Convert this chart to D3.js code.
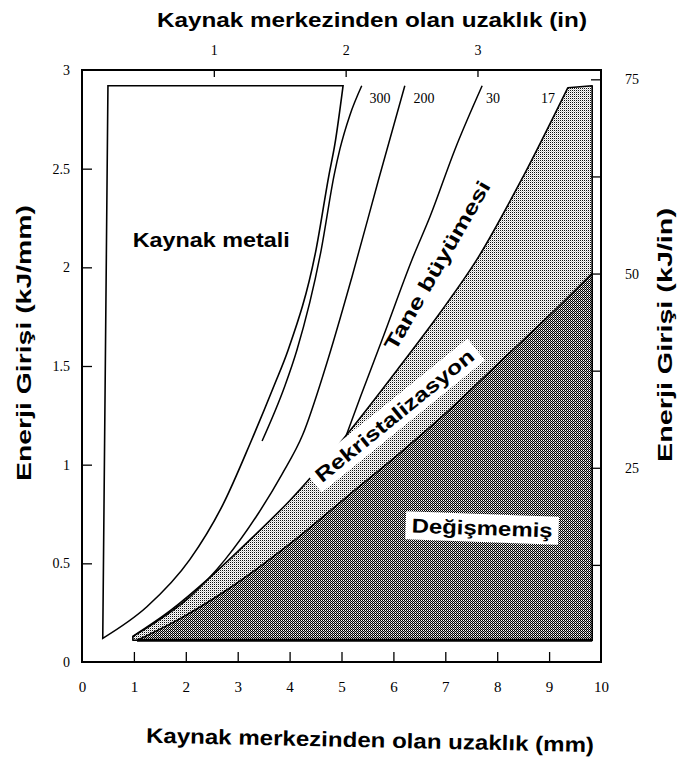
<!DOCTYPE html>
<html><head><meta charset="utf-8">
<script src="https://cdn.jsdelivr.net/npm/d3@7/dist/d3.min.js"></script>
<style>body{margin:0;background:#fff}svg{display:block}</style>
</head><body>
<svg id="c" width="686" height="761"></svg>
<script>
// ---- data (x: distance mm, y: energy input kJ/mm) ----
const xTicksMm = [0,1,2,3,4,5,6,7,8,9,10];
const yTicksKjMm = [0,0.5,1,1.5,2,2.5,3];
const xTicksIn = [1,2,3];
const yTicksKjIn = [12.5,25,37.5,50,62.5,75];
const yLabelsKjIn = [25,50,75];

const weldBoundary = [[0.40,0.12],[1.25,0.28],[2.08,0.52],[2.72,0.80],[3.26,1.12],[3.70,1.40],[3.97,1.58],[4.51,2.09],[4.76,2.47],[4.87,2.62],[5.03,2.92]];
const weldTopLeft = [0.50,2.92];
const line300 = [[3.47,1.12],[3.91,1.40],[4.14,1.58],[4.61,2.09],[4.86,2.47],[4.97,2.60],[5.16,2.77],[5.39,2.92]];
const line200 = [[0.98,0.13],[1.41,0.20],[2.08,0.33],[2.76,0.52],[3.39,0.75],[3.85,0.95],[4.25,1.15],[4.70,1.50],[5.20,1.95],[5.72,2.45],[6.22,2.92]];
const line30 = [[5.01,1.09],[5.36,1.34],[5.82,1.66],[6.36,2.04],[6.71,2.26],[7.19,2.60],[7.71,2.92]];
const line17 = [[0.98,0.13],[1.70,0.26],[2.47,0.43],[3.24,0.62],[4.01,0.82],[4.97,1.11],[6.13,1.50],[6.90,1.77],[7.61,2.04],[8.44,2.43],[9.36,2.91]];
const darkBoundary = [[1.06,0.11],[1.89,0.22],[2.76,0.36],[4.01,0.60],[5.16,0.85],[6.13,1.06],[7.09,1.28],[8.05,1.52],[9.02,1.76],[9.83,1.97]];
const zoneRightX = 9.83;
const zoneTopY = 2.92;
const zoneBottomY = 0.11;

const curveLabels = [["300",5.74,2.86],["200",6.59,2.86],["30",7.92,2.86],["17",8.98,2.86]];
const zoneLabels = [
  {t:"Kaynak metali", x:2.49, y:2.14, a:0, len:157, box:false},
  {t:"Tane büyümesi", x:6.84, y:2.01, a:-60, len:192, box:false},
  {t:"Rekristalizasyon", x:6.02, y:1.25, a:-39, len:198, box:true},
  {t:"Değişmemiş", x:7.71, y:0.68, a:2, len:141, box:true}
];

// ---- layout ----
const L = 82, R = 601, T = 70, B = 662;
const svg = d3.select("#c");
const x = d3.scaleLinear().domain([0,10]).range([L,R]);
const y = d3.scaleLinear().domain([0,3]).range([B,T]);
const xIn = d3.scaleLinear().domain([0,10/2.54]).range([L,R]);
const yIn = d3.scaleLinear().domain([0,3*25.4]).range([B,T]);

const defs = svg.append("defs");
const pl = defs.append("pattern").attr("id","pLight").attr("patternUnits","userSpaceOnUse").attr("width",2).attr("height",2);
pl.append("rect").attr("width",2).attr("height",2).attr("fill","#fff");
pl.append("rect").attr("width",1).attr("height",1).attr("fill","#111");
pl.append("rect").attr("x",1).attr("y",1).attr("width",1).attr("height",1).attr("fill","#c8c8c8");
const pd = defs.append("pattern").attr("id","pDark").attr("patternUnits","userSpaceOnUse").attr("width",2).attr("height",2);
pd.append("rect").attr("width",2).attr("height",2).attr("fill","#a8a8a8");
pd.append("rect").attr("width",1).attr("height",1).attr("fill","#000");
pd.append("rect").attr("x",1).attr("y",1).attr("width",1).attr("height",1).attr("fill","#000");
pd.append("rect").attr("x",1).attr("y",0).attr("width",1).attr("height",1).attr("fill","#fff");

const line = d3.line().x(d=>x(d[0])).y(d=>y(d[1])).curve(d3.curveMonotoneX);

// light zone bounded by the 17 line
svg.append("path").attr("d", line(line17) + `L${x(zoneRightX)},${y(zoneTopY)}L${x(zoneRightX)},${y(zoneBottomY)}L${x(line17[0][0])},${y(zoneBottomY)}Z`)
  .attr("fill","url(#pLight)").attr("stroke","#000").attr("stroke-width",1.6).attr("stroke-linejoin","round");
// dark zone
svg.append("path").attr("d", line(darkBoundary) + `L${x(zoneRightX)},${y(zoneBottomY)}Z`)
  .attr("fill","url(#pDark)").attr("stroke","#000").attr("stroke-width",1.6);
svg.append("line").attr("x1",x(darkBoundary[0][0])).attr("x2",x(zoneRightX)).attr("y1",y(zoneBottomY)).attr("y2",y(zoneBottomY))
  .attr("stroke","#000").attr("stroke-width",3);
// weld metal
svg.append("path").attr("d", line(weldBoundary) + `L${x(weldTopLeft[0])},${y(weldTopLeft[1])}Z`)
  .attr("fill","#fff").attr("stroke","#000").attr("stroke-width",1.6).attr("stroke-linejoin","miter");
// isolines
[line300, line200, line30].forEach(d => {
  svg.append("path").attr("d", line(d)).attr("fill","none").attr("stroke","#000").attr("stroke-width",1.5);
});

// frame
svg.append("rect").attr("x",L).attr("y",T).attr("width",R-L).attr("height",B-T)
  .attr("fill","none").attr("stroke","#000").attr("stroke-width",2);

// axes
const serif = "'Liberation Serif','Times New Roman',serif";
const sans = "'Liberation Sans',Arial,sans-serif";
function styleAxis(g, skipEnds){
  g.select(".domain").remove();
  g.selectAll(".tick line").attr("stroke","#000").attr("stroke-width",1.3);
  g.selectAll("text").attr("font-family",serif).attr("font-size",15).attr("fill","#000");
  if (skipEnds) g.selectAll(".tick").filter(d=>skipEnds.includes(d)).select("line").remove();
}
const fmt = d3.format("~g");
const gB = svg.append("g").attr("transform",`translate(0,${B})`)
  .call(d3.axisBottom(x).tickValues(xTicksMm).tickSize(-10).tickPadding(19).tickFormat(fmt));
styleAxis(gB,[0,10]);
const gL = svg.append("g").attr("transform",`translate(${L},0)`)
  .call(d3.axisLeft(y).tickValues(yTicksKjMm).tickSize(-10).tickPadding(12).tickFormat(fmt));
styleAxis(gL,[0,3]);
gL.selectAll("text").attr("font-size",14);
const gT = svg.append("g").attr("transform",`translate(0,${T})`)
  .call(d3.axisTop(xIn).tickValues(xTicksIn).tickSize(-7).tickPadding(15).tickFormat(fmt));
styleAxis(gT);
gT.selectAll("text").attr("font-size",14);
const gR = svg.append("g").attr("transform",`translate(${R},0)`)
  .call(d3.axisRight(yIn).tickValues(yTicksKjIn).tickSize(-10).tickPadding(24).tickFormat(d=>yLabelsKjIn.includes(d)?fmt(d):""));
styleAxis(gR);
gR.selectAll("text").attr("font-size",14);

// axis titles
function title(txt, cx, cy, ang, size, len){
  svg.append("text").attr("transform",`translate(${cx},${cy}) rotate(${ang})`)
    .attr("text-anchor","middle").attr("dy","0.35em")
    .attr("font-family",sans).attr("font-size",size).attr("font-weight","bold")
    .attr("textLength",len).attr("lengthAdjust","spacingAndGlyphs").text(txt);
}
title("Kaynak merkezinden olan uzaklık (in)", 372, 20, 0, 21, 430);
title("Kaynak merkezinden olan uzaklık (mm)", 370, 740, 1.2, 21, 448);
title("Enerji Girişi (kJ/mm)", 24, 343, -90, 21, 276);
title("Enerji Girişi (kJ/in)", 665, 335, -90, 21, 254);

// curve labels
curveLabels.forEach(([t,cx,cy]) => {
  svg.append("text").attr("x",x(cx)).attr("y",y(cy)).attr("dy","0.35em").attr("text-anchor","middle")
    .attr("font-family",serif).attr("font-size",14).text(t);
});

// zone labels
zoneLabels.forEach(d => {
  const g = svg.append("g").attr("transform",`translate(${x(d.x)},${y(d.y)}) rotate(${d.a})`);
  const r = g.append("rect").attr("fill","#fff");
  const t = g.append("text").attr("text-anchor","middle").attr("dy","0.36em")
    .attr("font-family",sans).attr("font-size",20).attr("font-weight","bold")
    .attr("textLength",d.len).attr("lengthAdjust","spacingAndGlyphs").text(d.t);
  if (d.box) {
    const b = t.node().getBBox();
    r.attr("x",b.x-6).attr("y",b.y-3).attr("width",b.width+12).attr("height",b.height+6);
  } else r.remove();
});
</script>
</body></html>
